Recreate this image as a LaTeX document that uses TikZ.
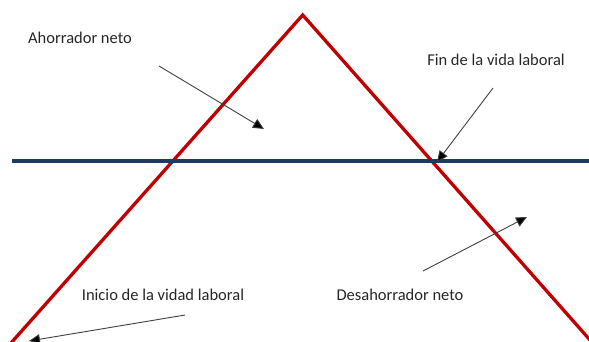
\documentclass[tikz,border=0pt]{standalone}
\usepackage{fontspec}
\setmainfont{Carlito}
\usetikzlibrary{arrows.meta,positioning}
\definecolor{lineared}{RGB}{192,0,0}
\definecolor{lineablue}{RGB}{31,56,100}
\tikzset{
  etiqueta/.style={inner sep=0pt,font=\fontsize{16.5}{18}\selectfont,text=black!85},
  flecha/.style={draw=black!75,line width=0.9pt,-{Triangle[length=11pt,width=10pt,fill=black]}}
}

\begin{document}
\begin{tikzpicture}[x=1pt,y=-1pt]
\useasboundingbox (0,0) rectangle (589,342);
\clip (0,0) rectangle (589,342);
% ciclo de vida
\coordinate (inicio) at (11,343);
\coordinate (cima) at (302.7,15);
\coordinate (fin) at (590,340);
\draw [lineared,line width=3.3pt,line join=miter] (inicio) -- (cima) -- (fin);
% renta
\coordinate (rentaA) at (12,161);
\coordinate (rentaB) at (589,161);
\draw [lineablue,line width=3.2pt] (rentaA) -- (rentaB);
% etiquetas
\node [etiqueta] (ahorro) at (80,38) {Ahorrador neto};
\node [etiqueta] (findv) at (496,60) {Fin de la vida laboral};
\node [etiqueta] (iniciov) at (163,295) {Inicio de la vidad laboral};
\node [etiqueta] (desahorro) at (400,295) {Desahorrador neto};
% flechas
\coordinate (a1) at (159,66);
\coordinate (a2) at (264,129);
\draw [flecha] (a1) -- (a2);
\coordinate (f1) at (493,88);
\coordinate (f2) at (437,162);
\draw [flecha] (f1) -- (f2);
\coordinate (i1) at (185,315);
\coordinate (i2) at (29,341);
\draw [flecha] (i1) -- (i2);
\coordinate (d1) at (423,271);
\coordinate (d2) at (527,217);
\draw [flecha] (d1) -- (d2);
\end{tikzpicture}
\end{document}
